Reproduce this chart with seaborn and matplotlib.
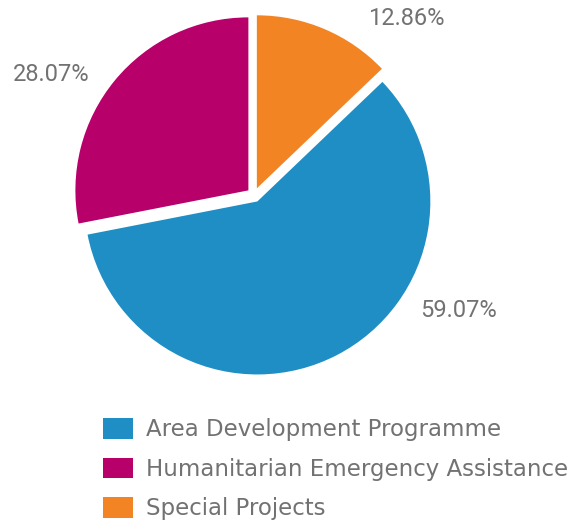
import matplotlib
matplotlib.use("Agg")
import matplotlib.pyplot as plt
from matplotlib.patches import Patch
import seaborn as sns

sns.set_theme(style="white")
plt.rcParams["font.family"] = ["Roboto", "DejaVu Sans"]

# Funding split by programme type
categories = ["Area Development Programme",
              "Humanitarian Emergency Assistance",
              "Special Projects"]
shares = [59.07, 28.07, 12.86]
colors = ["#1E8EC5", "#B8006B", "#F28424"]

# Wedges run clockwise from 12 o'clock: Special, Area, Humanitarian
pie_order = [2, 0, 1]
# Label anchor points (data units, pie radius = 1)
label_pos = {2: (0.88, 1.02), 0: (1.185, -0.665), 1: (-1.17, 0.694)}

text_color = "#727272"

fig = plt.figure(figsize=(5.83, 5.29), dpi=100)
ax = fig.add_axes([0, 0, 1, 1])

vals = [shares[i] for i in pie_order]
cols = [colors[i] for i in pie_order]
ax.pie(vals, colors=cols, startangle=90, counterclock=False,
       explode=[0.042] * len(vals), radius=1.0,
       wedgeprops=dict(linewidth=0))

for i in pie_order:
    x, y = label_pos[i]
    ax.text(x, y, f"{shares[i]:.2f}%", ha="center", va="center",
            fontsize=17, color=text_color, family=["Roboto"])

# pixel-consistent limits: centre at (254, 195) px, 173 px per unit
ax.set_xlim(-254 / 173, (583 - 254) / 173)
ax.set_ylim((195 - 529) / 173, 195 / 173)
ax.set_aspect("auto")
ax.axis("off")

handles = [Patch(facecolor=c, edgecolor="none") for c in colors]
leg = ax.legend(handles, categories, loc="upper left",
                bbox_to_anchor=(103 / 583, 1 - 418 / 529),
                bbox_transform=fig.transFigure, frameon=False,
                prop={"family": ["DejaVu Sans"], "size": 16.5},
                borderpad=0, borderaxespad=0,
                handlelength=1.31, handleheight=1.0, handletextpad=0.58,
                labelspacing=0.72)
for t in leg.get_texts():
    t.set_color(text_color)

fig.savefig("out.png", dpi=100, facecolor="white")
